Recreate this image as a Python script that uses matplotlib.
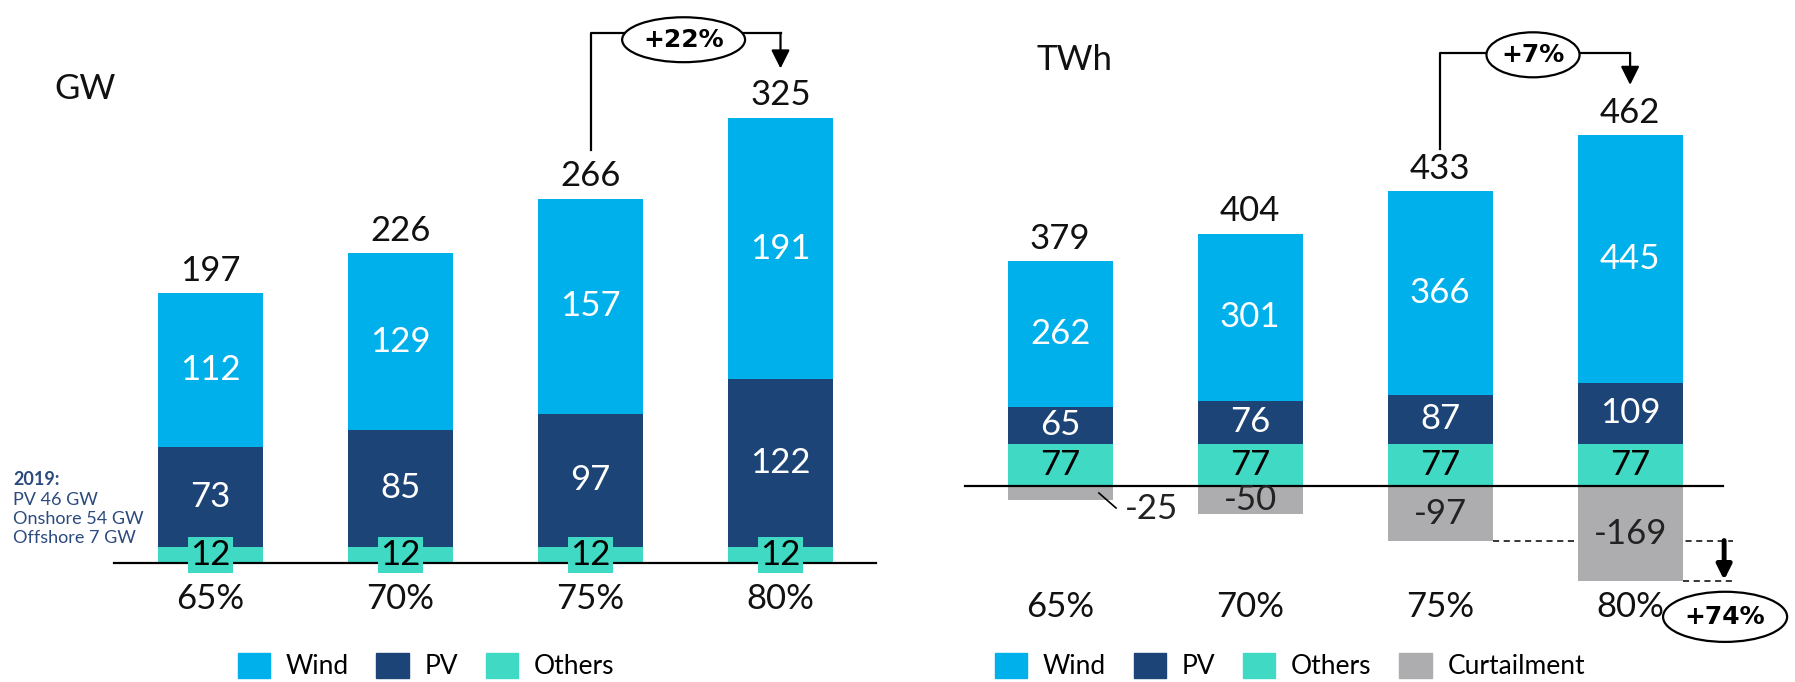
import matplotlib
matplotlib.use('Agg')
import matplotlib.pyplot as plt
from matplotlib.patches import Ellipse, Patch
import numpy as np

# ── DATA ──────────────────────────────────────────────────────────────────────
scenarios = ["65%", "70%", "75%", "80%"]
gw_wind   = [112, 129, 157, 191]
gw_pv     = [73, 85, 97, 122]
gw_others = [12, 12, 12, 12]

twh_wind   = [262, 301, 366, 445]
twh_pv     = [65, 76, 87, 109]
twh_others = [77, 77, 77, 77]
twh_curt   = [-25, -50, -97, -169]

note_lines = ["PV 46 GW", "Onshore 54 GW", "Offshore 7 GW"]

# ── THEME ─────────────────────────────────────────────────────────────────────
WIND   = "#00b0ea"
PV     = "#1d4477"
OTHERS = "#40d9c4"
CURT   = "#adadaf"
NAVY   = "#2b4a7e"
FONT   = ['Lato', 'DejaVu Sans']
plt.rcParams['font.family'] = FONT
VAL_FS = 25
VW     = 'normal'
INK    = '#111111'
BADGE  = dict(fontsize=18, fontweight='bold', family='DejaVu Sans', zorder=5)
W = 0.553

fig = plt.figure(figsize=(17.95, 6.82), dpi=100)
fig.patch.set_facecolor('white')

x = np.arange(len(scenarios))

# ── LEFT: capacity (GW) ───────────────────────────────────────────────────────
ax1 = fig.add_axes([0, 0, 885 / 1795, 1])
ax1.set_xlim(-1.108, 3.55)
ax1.set_ylim(-86.9, 411)
ax1.axis('off')

ax1.bar(x, gw_others, W, color=OTHERS, zorder=2)
ax1.bar(x, gw_pv, W, bottom=gw_others, color=PV, zorder=2)
base = np.array(gw_others) + np.array(gw_pv)
ax1.bar(x, gw_wind, W, bottom=base, color=WIND, zorder=2)
gw_tot = base + np.array(gw_wind)

ax1.plot([-0.506, 3.5], [0, 0], color='black', lw=1.6, zorder=3)

for i in range(len(x)):
    ax1.text(x[i], gw_others[i] / 2, str(gw_others[i]), ha='center', va='center',
             fontsize=VAL_FS, fontweight=VW, color='black', zorder=5,
             bbox=dict(boxstyle='square,pad=0.06', facecolor=OTHERS, edgecolor='none'))
    ax1.text(x[i], gw_others[i] + gw_pv[i] / 2, str(gw_pv[i]), ha='center', va='center',
             fontsize=VAL_FS, fontweight=VW, color='white', zorder=5)
    ax1.text(x[i], base[i] + gw_wind[i] / 2, str(gw_wind[i]), ha='center', va='center',
             fontsize=VAL_FS, fontweight=VW, color='white', zorder=5)
    ax1.annotate(str(gw_tot[i]), (x[i], gw_tot[i]), xytext=(0, 9), textcoords='offset points',
                 ha='center', va='baseline', fontsize=VAL_FS, fontweight=VW, color=INK)
    ax1.text(x[i], -26.3, scenarios[i], ha='center', va='center',
             fontsize=VAL_FS, fontweight=VW, color=INK)

ax1.text(-0.824, 346, "GW", ha='left', va='center', fontsize=VAL_FS, fontweight=VW, color=INK)

ax1.text(-1.04, 60.6, "2019:", ha='left', va='center', fontsize=13,
         fontweight='bold', color=NAVY)
for j, line in enumerate(note_lines):
    ax1.text(-1.04, 46 - j * 13.8, line, ha='left', va='center', fontsize=13, color=NAVY)

# growth bracket 75% -> 80%
ax1.plot([2, 2, 3], [301.5, 387, 387], color='black', lw=1.6, zorder=3)
ax1.annotate('', xy=(3, 361), xytext=(3, 387),
             arrowprops=dict(arrowstyle='-|>', color='black', lw=1.6,
                             mutation_scale=28, shrinkA=0, shrinkB=0))
ax1.add_patch(Ellipse((2.49, 382), 0.647, 32.8, facecolor='white',
                      edgecolor='black', lw=1.6, zorder=4))
ax1.text(2.49, 382, "+22%", ha='center', va='center', **BADGE)

ax1.legend(handles=[Patch(color=WIND, label="Wind"), Patch(color=PV, label="PV"),
                    Patch(color=OTHERS, label="Others")],
           loc='center', bbox_to_anchor=(426 / 1795, 1 - 666 / 682),
           bbox_transform=fig.transFigure, ncol=3, frameon=False, fontsize=19,
           handlelength=1.22, handleheight=1.07, handletextpad=0.6,
           columnspacing=1.05, borderaxespad=0, borderpad=0)

# ── RIGHT: generation (TWh) ───────────────────────────────────────────────────
ax2 = fig.add_axes([900 / 1795, 0, 895 / 1795, 1])
ax2.set_xlim(-0.843, 3.868)
ax2.set_ylim(-351, 873.4)
ax2.axis('off')

ax2.bar(x, twh_others, W, color=OTHERS, zorder=2)
ax2.bar(x, twh_pv, W, bottom=twh_others, color=PV, zorder=2)
base2 = np.array(twh_others) + np.array(twh_pv)
ax2.bar(x, twh_wind, W, bottom=base2, color=WIND, zorder=2)
ax2.bar(x, twh_curt, W, color=CURT, zorder=2)
pos_tot = base2 + np.array(twh_wind)
net = pos_tot + np.array(twh_curt)

ax2.plot([-0.5, 3.49], [0, 0], color='black', lw=1.6, zorder=3)

for i in range(len(x)):
    ax2.text(x[i], twh_others[i] / 2, str(twh_others[i]), ha='center', va='center',
             fontsize=VAL_FS, fontweight=VW, color='black', zorder=5)
    ax2.text(x[i], twh_others[i] + twh_pv[i] / 2, str(twh_pv[i]), ha='center', va='center',
             fontsize=VAL_FS, fontweight=VW, color='white', zorder=5)
    ax2.text(x[i], base2[i] + twh_wind[i] / 2, str(twh_wind[i]), ha='center', va='center',
             fontsize=VAL_FS, fontweight=VW, color='white', zorder=5)
    ax2.annotate(str(net[i]), (x[i], pos_tot[i]), xytext=(0, 9), textcoords='offset points',
                 ha='center', va='baseline', fontsize=VAL_FS, fontweight=VW, color=INK)
    ax2.text(x[i], -216, scenarios[i], ha='center', va='center',
             fontsize=VAL_FS, fontweight=VW, color=INK)
    if i > 0:
        ax2.text(x[i], twh_curt[i] / 2, str(twh_curt[i]), ha='center', va='center',
                 fontsize=VAL_FS, fontweight=VW, color='#222222', zorder=5)

# small curtailment value sits outside its bar
ax2.plot([0.204, 0.294], [-11.7, -38.6], color='black', lw=1.2, zorder=3)
ax2.text(0.48, -40.4, str(twh_curt[0]), ha='center', va='center',
         fontsize=VAL_FS, fontweight=VW, color='#222222')

ax2.text(-0.127, 766, "TWh", ha='left', va='center', fontsize=VAL_FS, fontweight=VW, color=INK)

# growth bracket 75% -> 80%
ax2.plot([2, 2, 3], [606, 778, 778], color='black', lw=1.6, zorder=3)
ax2.annotate('', xy=(3, 721), xytext=(3, 778),
             arrowprops=dict(arrowstyle='-|>', color='black', lw=1.6,
                             mutation_scale=28, shrinkA=0, shrinkB=0))
ax2.add_patch(Ellipse((2.489, 775), 0.49, 80.8, facecolor='white',
                      edgecolor='black', lw=1.6, zorder=4))
ax2.text(2.489, 775, "+7%", ha='center', va='center', **BADGE)

# curtailment growth 75% -> 80%
ax2.plot([2 + W / 2, 3.54], [twh_curt[2], twh_curt[2]], color='black', lw=1.1,
         ls=(0, (4, 3)), zorder=1)
ax2.plot([3 + W / 2, 3.54], [twh_curt[3], twh_curt[3]], color='black', lw=1.1,
         ls=(0, (4, 3)), zorder=1)
ax2.annotate('', xy=(3.495, twh_curt[3] + 1), xytext=(3.495, twh_curt[2]),
             arrowprops=dict(arrowstyle='-|>', color='black', lw=3.5,
                             mutation_scale=22, shrinkA=0, shrinkB=0))
ax2.add_patch(Ellipse((3.50, -234), 0.653, 90, facecolor='white',
                      edgecolor='black', lw=1.6, zorder=4))
ax2.text(3.50, -234, "+74%", ha='center', va='center', **BADGE)

ax2.legend(handles=[Patch(color=WIND, label="Wind"), Patch(color=PV, label="PV"),
                    Patch(color=OTHERS, label="Others"), Patch(color=CURT, label="Curtailment")],
           loc='center', bbox_to_anchor=(1290 / 1795, 1 - 666 / 682),
           bbox_transform=fig.transFigure, ncol=4, frameon=False, fontsize=19,
           handlelength=1.22, handleheight=1.07, handletextpad=0.6,
           columnspacing=1.05, borderaxespad=0, borderpad=0)

plt.savefig('out.png', dpi=100, facecolor='white')
